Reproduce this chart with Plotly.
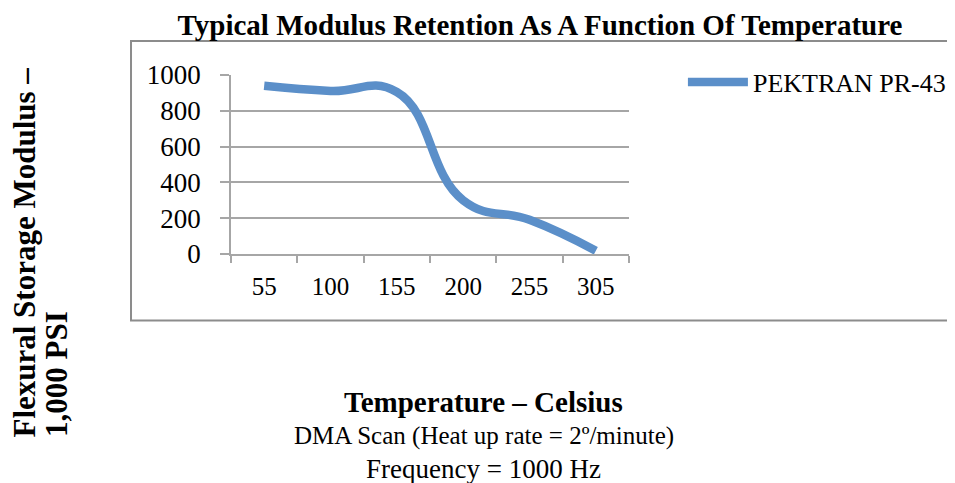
import plotly.graph_objects as go

# Data
temperatures = ["55", "100", "155", "200", "255", "305"]
modulus = [940, 911, 905, 300, 191, 18]
y_ticks = [0, 200, 400, 600, 800, 1000]
series_name = "PEKTRAN PR-43"

W, H = 955, 483
OFF = 8  # page body margin in the browser
L, R, T, B = 231 - OFF, 637 - OFF, 75 - OFF, 254.3 - OFF


def px(x):
    return (x - OFF - L) / (R - L)


def py(y):
    return (B - (y - OFF)) / (B - T)


SERIF = "Liberation Serif"
GRID = "#A6A6A6"

fig = go.Figure()
fig.add_trace(go.Scatter(
    x=temperatures, y=modulus, mode="lines", name=series_name,
    line=dict(color="#5B8FC9", width=8.5, shape="spline", smoothing=1.3),
    showlegend=True,
))

fig.update_layout(
    width=W, height=H,
    margin=dict(l=L, r=W - R, t=T, b=H - B, pad=0),
    paper_bgcolor="white", plot_bgcolor="white",
    font=dict(family=SERIF, color="black"),
    title=dict(text="<b>Typical Modulus Retention As A Function Of Temperature</b>",
               x=(540 - OFF) / W, xanchor="center", xref="container",
               y=1 - (25 - OFF) / H, yanchor="middle", yref="container",
               font=dict(size=29, family=SERIF)),
    showlegend=True,
    legend=dict(x=px(692), y=py(82), xanchor="left", yanchor="middle",
                font=dict(size=26, family=SERIF), itemwidth=60,
                bgcolor="rgba(0,0,0,0)", tracegroupgap=0),
    xaxis=dict(type="category", range=[-0.5, 5.5], showgrid=False,
               showline=True, linecolor=GRID, linewidth=1.5,
               ticks="outside", tickson="boundaries", ticklen=7,
               tickcolor=GRID, tickwidth=1.5,
               tickfont=dict(size=25, family=SERIF), ticklabelstandoff=9,
               zeroline=False),
    yaxis=dict(range=[0, 1000], tickvals=y_ticks, showgrid=True,
               gridcolor=GRID, gridwidth=1.5, showline=True,
               linecolor=GRID, linewidth=1.5, ticks="outside", ticklen=9,
               tickcolor=GRID, tickwidth=1.5,
               tickfont=dict(size=27, family=SERIF), ticklabelstandoff=14,
               zeroline=False),
)

# Chart-area frame
fig.add_shape(type="rect", xref="paper", yref="paper",
              x0=px(129), x1=px(985), y0=py(321), y1=py(41),
              line=dict(color="#8C8C8C", width=2), fillcolor="rgba(0,0,0,0)",
              layer="below")

# Y axis title (two lines, left-aligned at the bottom)
fig.add_annotation(text="<b>Flexural Storage Modulus –</b>",
                   xref="paper", yref="paper", x=px(20), y=py(440),
                   textangle=-90, showarrow=False, xanchor="center",
                   yanchor="bottom", font=dict(size=31, family=SERIF))
fig.add_annotation(text="<b>1,000 PSI</b>",
                   xref="paper", yref="paper", x=px(53), y=py(440),
                   textangle=-90, showarrow=False, xanchor="center",
                   yanchor="bottom", font=dict(size=31, family=SERIF))

# X axis title and notes
fig.add_annotation(text="<b>Temperature – Celsius</b>", xref="paper", yref="paper",
                   x=px(489), y=py(403), showarrow=False, yanchor="middle",
                   font=dict(size=29, family=SERIF))
fig.add_annotation(text="DMA Scan (Heat up rate = 2º/minute)", xref="paper",
                   yref="paper", x=px(489), y=py(437), showarrow=False,
                   yanchor="middle", font=dict(size=25, family=SERIF))
fig.add_annotation(text="Frequency = 1000 Hz", xref="paper", yref="paper",
                   x=px(489), y=py(470), showarrow=False, yanchor="middle",
                   font=dict(size=27, family=SERIF))

fig.write_html("out.html")
